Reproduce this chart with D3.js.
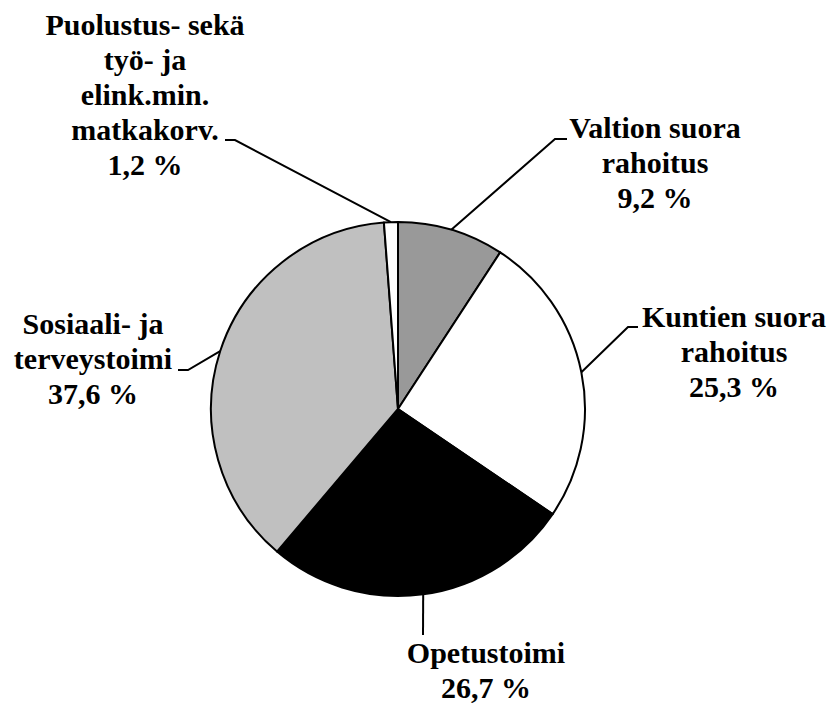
<!DOCTYPE html>
<html>
<head>
<meta charset="utf-8">
<script src="https://cdn.jsdelivr.net/npm/d3@7"></script>
<style>
  body { margin: 0; background: #fff; }
</style>
</head>
<body>
<script>
// slice data, clockwise from 12 o'clock
var categories = ["Valtion suora rahoitus", "Kuntien suora rahoitus", "Opetustoimi", "Sosiaali- ja terveystoimi", "Puolustus- sekä työ- ja elink.min. matkakorv."];
var values = [9.2, 25.3, 26.7, 37.6, 1.2];
var labelLines = [
    ["Valtion suora", "rahoitus", "9,2 %"],
    ["Kuntien suora", "rahoitus", "25,3 %"],
    ["Opetustoimi", "26,7 %"],
    ["Sosiaali- ja", "terveystoimi", "37,6 %"],
    ["Puolustus- sekä", "työ- ja", "elink.min.", "matkakorv.", "1,2 %"]
];
var fills = ["#999999", "#ffffff", "#000000", "#c0c0c0", "#ffffff"];

// label layout: elbow points of leader lines + text centre / first baseline
var layout = [
    { elbow: [[555, 139], [567, 139]], tx: 655, ty: 138 },
    { elbow: [[628, 327], [638, 327]], tx: 734, ty: 327 },
    { elbow: [[423, 635]], tx: 486, ty: 663 },
    { elbow: [[188, 370], [178, 370]], tx: 93, ty: 334 },
    { elbow: [[235, 140], [225, 140]], tx: 145, ty: 35 }
];

var width = 835,
    height = 704,
    cx = 398,
    cy = 409,
    radius = 187,
    lineH = 35;

var svg = d3.select("body").append("svg")
    .attr("width", width)
    .attr("height", height);

var pie = d3.pie().sort(null).value(function(d) { return d; });
var arcs = pie(values);

var arc = d3.arc().innerRadius(0).outerRadius(radius);

var g = svg.append("g").attr("transform", "translate(" + cx + "," + cy + ")");

g.selectAll("path")
    .data(arcs)
    .enter().append("path")
    .attr("d", arc)
    .attr("fill", function(d, i) { return fills[i]; })
    .attr("stroke", "#000")
    .attr("stroke-width", 2)
    .attr("stroke-linejoin", "round");

// leader lines start on the outer arc at each slice's mid angle
var line = d3.line();
svg.append("g").selectAll("path")
    .data(arcs)
    .enter().append("path")
    .attr("fill", "none")
    .attr("stroke", "#000")
    .attr("stroke-width", 2)
    .attr("d", function(d, i) {
        var a = (d.startAngle + d.endAngle) / 2;
        var p0 = [cx + radius * Math.sin(a), cy - radius * Math.cos(a)];
        return line([p0].concat(layout[i].elbow));
    });

// one text element per label line
var labelG = svg.append("g");
arcs.forEach(function(d, i) {
    labelG.selectAll(null)
        .data(labelLines[i])
        .enter().append("text")
        .attr("text-anchor", "middle")
        .attr("x", layout[i].tx)
        .attr("y", function(s, j) { return layout[i].ty + j * lineH; })
        .style("font-family", "Liberation Serif")
        .style("font-weight", "bold")
        .style("font-size", "30px")
        .style("fill", "#000")
        .text(function(s) { return s; });
});
</script>
</body>
</html>
